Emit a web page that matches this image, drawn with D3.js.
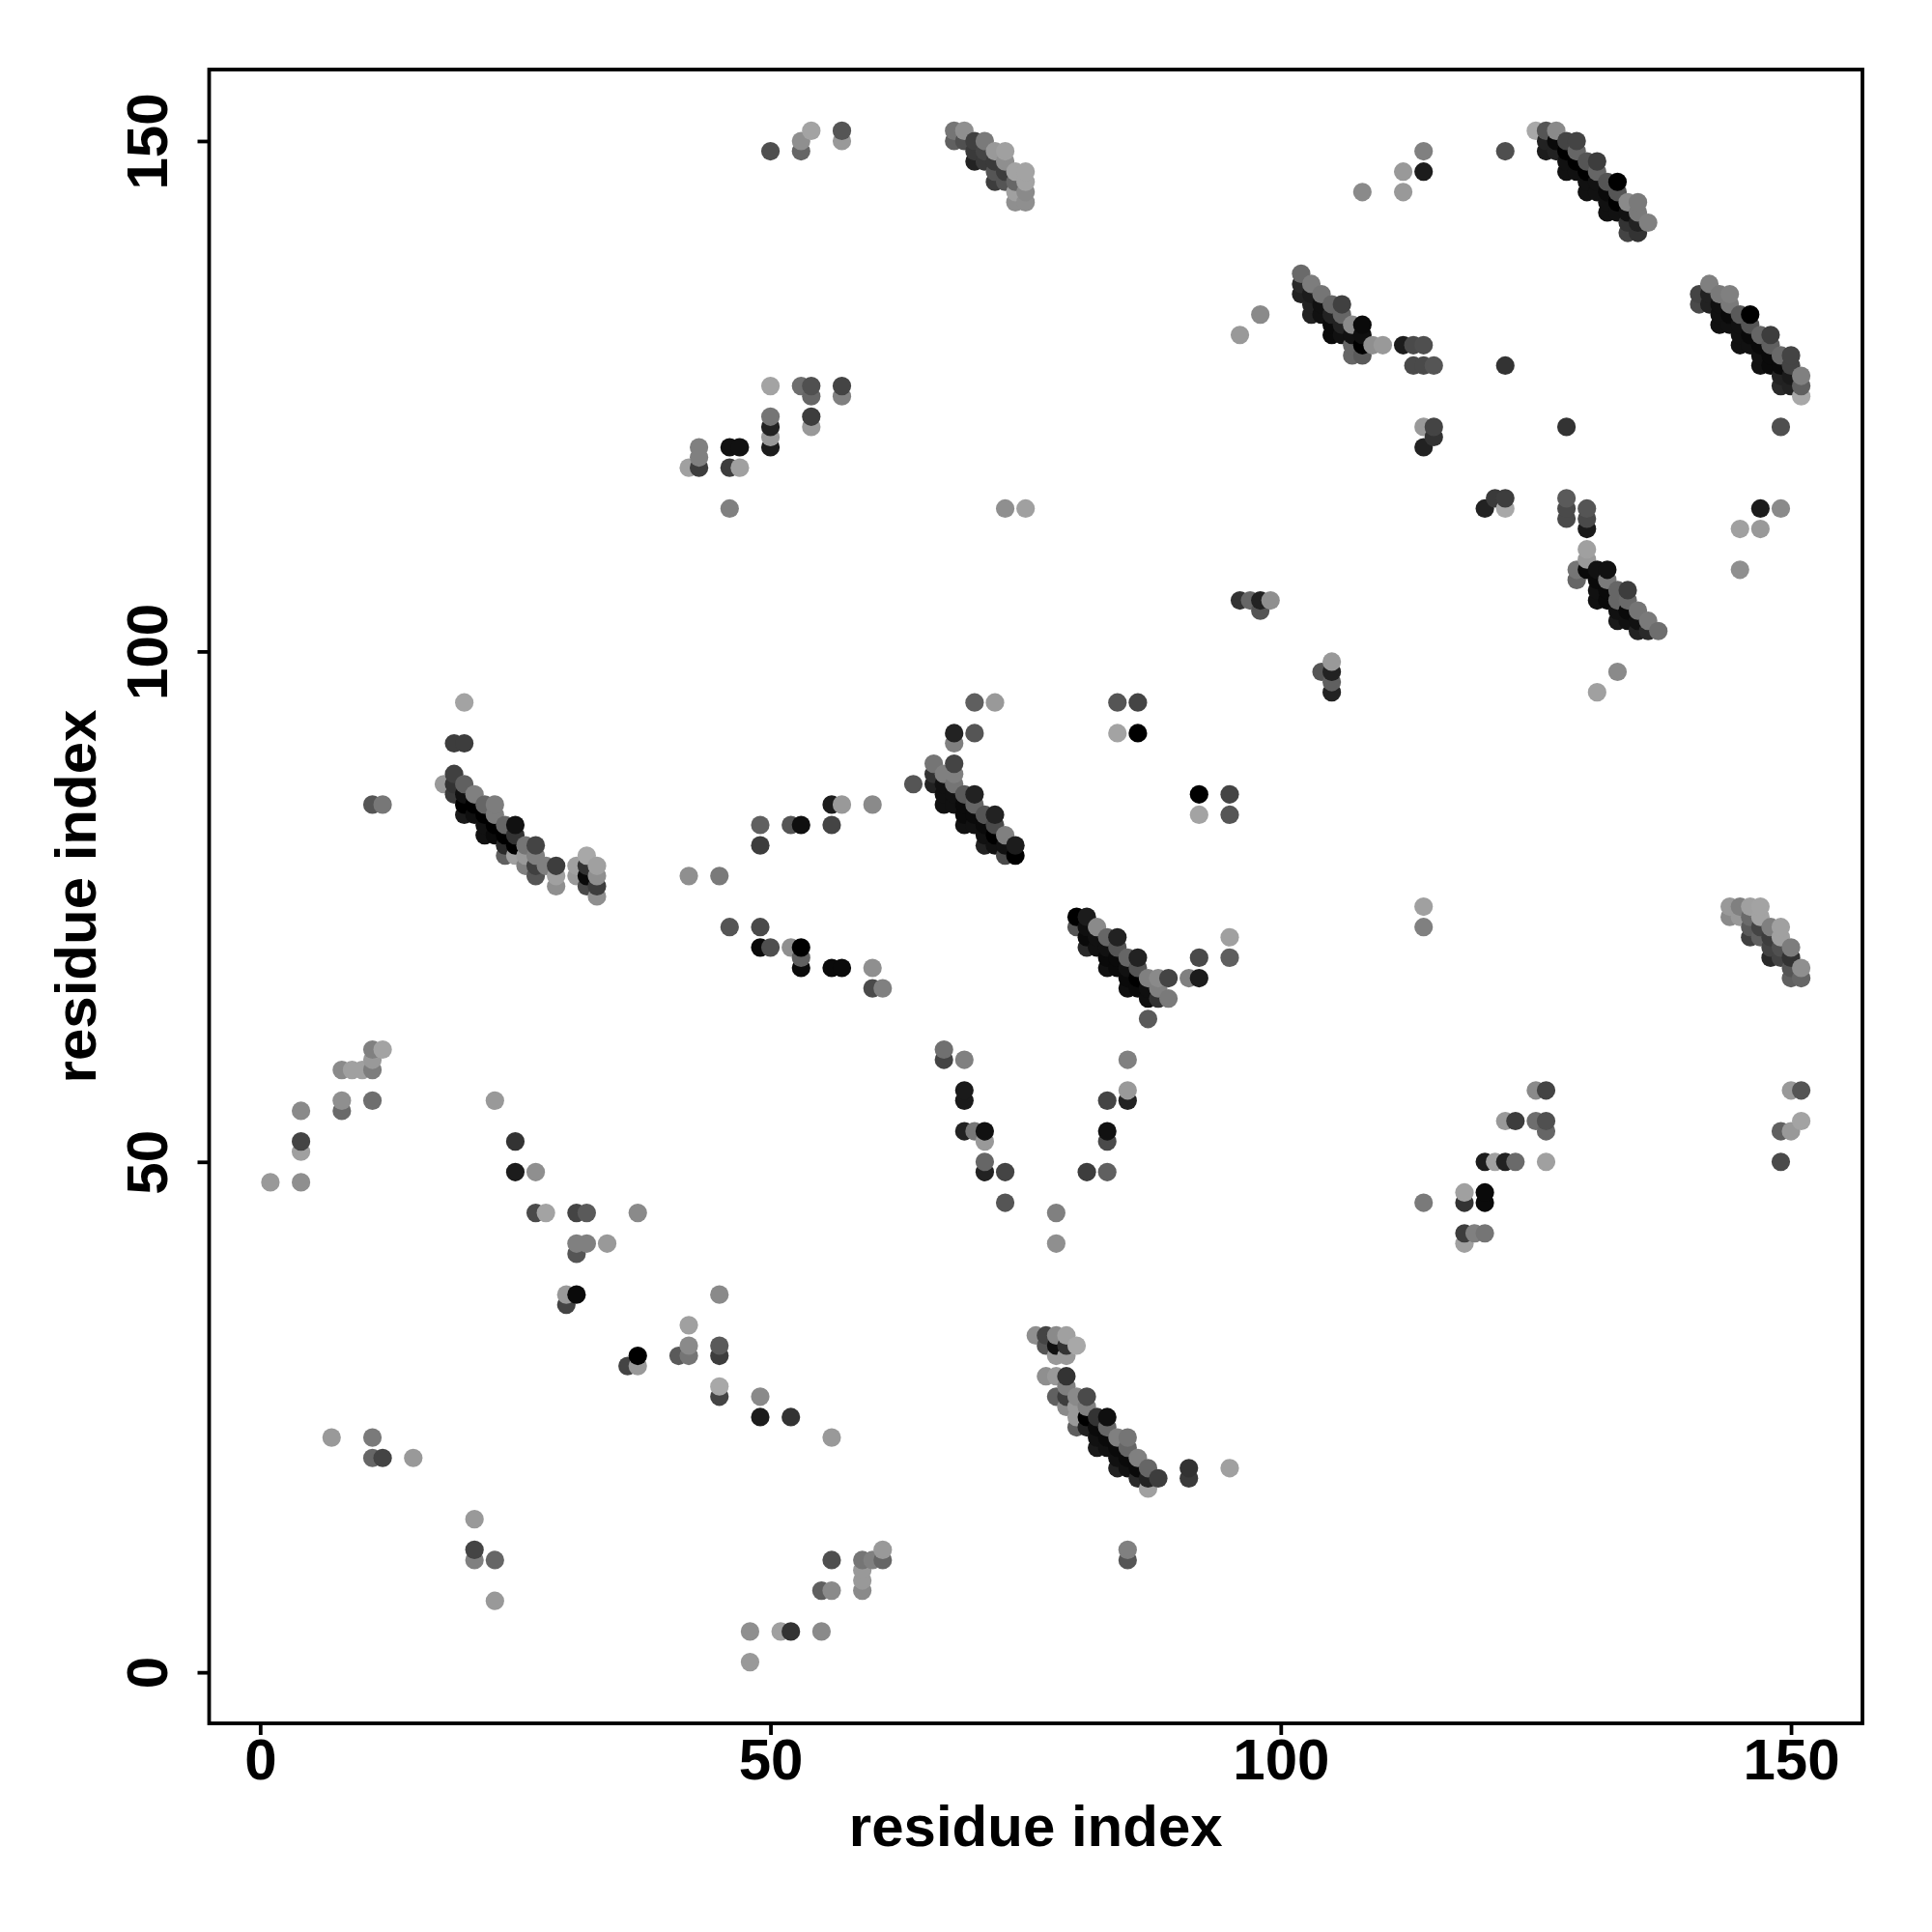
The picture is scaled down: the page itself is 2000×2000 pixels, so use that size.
<!DOCTYPE html>
<html><head><meta charset="utf-8">
<script src="https://cdn.jsdelivr.net/npm/d3@7/dist/d3.min.js"></script>
<style>html,body{margin:0;padding:0;background:#fff}</style></head>
<body><svg id="c" width="2000" height="2000"></svg>
<script>
// each row: residue i, residue j, grey level of the contact
const topLeft=[[50,149,0x4f],[53,149,0x66],[53,150,0x8f],[54,151,0xa3],[57,150,0x99],[57,151,0x55],
[50,126,0xa3],[53,126,0x6e],[54,126,0x50],[54,125,0x66],[50,123,0x75],[50,122,0x22],[50,121,0x99],[50,120,0x1c],[54,123,0x3d],[54,122,0x99],[57,126,0x44],[57,125,0x80],
[43,120,0x80],[43,119,0x80],[43,118,0x3d],[42,118,0xa0],[46,120,0x11],[47,120,0x11],[46,118,0x3d],[47,118,0xa0],[46,114,0x80],[73,114,0x8f],[75,114,0xa0]];
const sheet68=[[68,151,0x75],[68,150,0x60],[69,150,0x50],[69,151,0x8f],[70,150,0x40],[70,149,0x3a],[70,148,0x22],[71,150,0x7a],[71,149,0x44],[71,148,0x3a],
[72,149,0x99],[72,148,0x3a],[72,147,0x55],[72,146,0x3d],[73,149,0xa0],[73,148,0x8f],[73,147,0x3d],[73,146,0x55],[74,147,0xa3],[74,146,0x66],[74,145,0xa0],[74,144,0x8f],[75,147,0xa3],[75,146,0xa3],[75,145,0x8a],[75,144,0x8f]];
const topMid=[[96,131,0x99],[98,133,0x8a],[114,149,0x80],[114,147,0x1c],[112,147,0x99],[112,145,0x99],[108,145,0x8a],[122,149,0x4f],[122,128,0x33],
[112,130,0x1c],[113,130,0x4a],[114,130,0x4f],[113,128,0x4a],[114,128,0x4a],[115,128,0x55],[110,130,0x99],[109,130,0x8f],
[114,122,0x99],[115,122,0x44],[115,121,0x33],[114,120,0x22]];
const sheet102=[[102,137,0x6a],[102,136,0x2a],[102,135,0x22],[103,136,0x7d],[103,135,0x1c],[103,134,0x22],[103,133,0x22],[104,135,0x75],[104,134,0x11],[104,133,0x11],
[105,134,0x66],[105,133,0x22],[105,132,0x0a],[105,131,0x0a],[106,134,0x40],[106,133,0x66],[106,132,0x22],[106,131,0x11],[107,132,0x8a],[107,131,0x11],[107,130,0x66],[107,129,0x66],[108,132,0x0a],[108,131,0x0f],[108,130,0x00],[108,129,0x5a]];
const sheet125=[[125,151,0xa8],[126,151,0x55],[126,150,0x22],[126,149,0x1c],[127,151,0x8a],[127,150,0x0a],[127,149,0x22],[128,150,0x44],[128,149,0x00],[128,148,0x11],[128,147,0x11],
[129,150,0x44],[129,149,0x66],[129,148,0x00],[129,147,0x11],[130,148,0x55],[130,147,0x00],[130,146,0x11],[130,145,0x11],[131,148,0x3d],[131,147,0x66],[131,146,0x11],[131,145,0x11],
[132,146,0x55],[132,145,0x0a],[132,144,0x11],[132,143,0x11],[133,146,0x00],[133,145,0x55],[133,144,0x00],[133,143,0x11],[134,144,0x8a],[134,143,0x11],[134,142,0x33],[134,141,0x44],
[135,144,0x7a],[135,143,0x7a],[135,142,0x22],[135,141,0x33],[136,142,0x80]];
const sheet141=[[141,135,0x44],[141,134,0x4a],[142,136,0x80],[142,135,0x22],[142,134,0x22],[143,135,0x7a],[143,134,0x11],[143,133,0x11],[143,132,0x11],[144,135,0x80],[144,134,0x7a],[144,133,0x0a],[144,132,0x11],
[145,133,0x5a],[145,132,0x11],[145,131,0x11],[145,130,0x11],[146,133,0x00],[146,132,0x55],[146,131,0x0a],[146,130,0x11],[147,131,0x66],[147,130,0x0a],[147,129,0x11],[147,128,0x11],
[148,131,0x3d],[148,130,0x60],[148,129,0x0a],[148,128,0x0a],[149,129,0x6a],[149,128,0x0a],[149,127,0x22],[149,126,0x2a],[150,129,0x44],[150,128,0x44],[150,127,0x1a],[150,126,0x22],[151,127,0x80],[151,126,0x60],[151,125,0xa8]];
const rightMid=[[128,122,0x33],[149,122,0x4f],[122,115,0x3d],[121,115,0x3a],[120,114,0x22],[122,114,0xa8],[128,115,0x5a],[128,114,0x4a],[128,113,0x4a],[130,114,0x55],[130,113,0x4a],[130,112,0x1a],
[147,114,0x1c],[149,114,0x8a],[145,112,0xa0],[147,112,0x99],[145,108,0x8f],
[96,105,0x33],[97,105,0x66],[98,105,0x22],[98,104,0x55],[99,105,0x8f],[105,99,0x99],[105,98,0x22],[104,98,0x55],[105,97,0x60],[105,96,0x22],[133,98,0x8a],[131,96,0xa0]];
const sheet129=[[130,110,0xa0],[130,109,0x99],[130,108,0x0a],[129,108,0x75],[129,107,0x66],[131,108,0x11],[131,107,0x0a],[131,106,0x11],[131,105,0x11],[132,108,0x11],[132,107,0x7a],[132,106,0x0a],[132,105,0x0a],
[133,106,0x66],[133,105,0x66],[133,104,0x11],[133,103,0x1a],[134,106,0x3d],[134,105,0x6a],[134,104,0x0a],[134,103,0x11],[135,104,0x75],[135,103,0x11],[135,102,0x22],[136,103,0x7a],[136,102,0x2a],[137,102,0x6e]];
const sheet18=[[20,95,0xa3],[19,91,0x3d],[20,91,0x3d],[18,87,0x99],[19,88,0x40],[19,87,0x33],[19,86,0x3a],[20,87,0x60],[20,86,0x11],[20,85,0x00],[20,84,0x1a],[21,86,0x80],[21,85,0x00],[21,84,0x0f],
[22,85,0x66],[22,84,0x00],[22,83,0x11],[22,82,0x11],[23,85,0x7d],[23,84,0x7d],[23,83,0x00],[23,82,0x0a],[24,83,0x66],[24,82,0x00],[24,81,0x2a],[24,80,0x60],[25,83,0x11],[25,82,0x33],[25,81,0x00],[25,80,0xa0],
[26,81,0x75],[26,80,0x99],[26,79,0x80],[27,81,0x44],[27,80,0x80],[27,79,0x40],[27,78,0x55],[28,79,0x80],[29,79,0x3d],[29,78,0xa0],[29,77,0x8f],[31,79,0xa0],[31,78,0x99],
[32,80,0xa8],[32,79,0x33],[32,78,0x0a],[32,77,0x4a],[33,79,0xa0],[33,78,0x8f],[33,77,0x3d],[33,76,0x8f],[11,85,0x55],[12,85,0x77]];
const midLeft=[[42,78,0x8f],[45,78,0x7a],[49,83,0x60],[49,81,0x3d],[52,83,0x55],[53,83,0x0f],[56,83,0x44],[56,85,0x1c],[57,85,0x99],[60,85,0x8a],
[46,73,0x55],[49,73,0x4a],[49,71,0x0a],[50,71,0x4f],[52,71,0x8f],[53,71,0x00],[53,70,0x60],[53,69,0x0a],[56,69,0x0a],[57,69,0x0a],[60,69,0x8f],[60,67,0x4a],[61,67,0x80]];
const sheet66=[[70,95,0x5f],[72,95,0x99],[68,92,0x22],[70,92,0x55],[68,91,0x80],[68,89,0x44],[64,87,0x55],[66,89,0x75],[66,88,0x33],[66,87,0x22],[67,88,0x80],[67,87,0x11],[67,86,0x11],[67,85,0x11],
[68,88,0x80],[68,87,0x75],[68,86,0x11],[68,85,0x11],[69,86,0x5a],[69,85,0x0a],[69,84,0x0a],[69,83,0x11],[70,86,0x22],[70,85,0x66],[70,84,0x0a],[70,83,0x11],
[71,84,0x55],[71,83,0x0a],[71,82,0x11],[71,81,0x22],[72,84,0x22],[72,83,0x4a],[72,82,0x00],[72,81,0x11],[73,82,0x80],[73,81,0x11],[73,80,0x4a],[74,81,0x1c],[74,80,0x00]];
const midCentre=[[84,95,0x55],[86,95,0x44],[84,92,0xa3],[86,92,0x00],[92,86,0x00],[95,86,0x44],[92,84,0xa3],[95,84,0x55],[114,75,0xa0],[114,73,0x80]];
const sheet80=[[80,74,0x00],[80,73,0x55],[81,74,0x1c],[81,73,0x0f],[81,72,0x0a],[81,71,0x2a],[82,73,0x8a],[82,72,0x11],[82,71,0x11],[83,72,0x66],[83,71,0x11],[83,70,0x0a],[83,69,0x11],
[84,72,0x22],[84,71,0x55],[84,70,0x0a],[84,69,0x0a],[85,70,0x66],[85,69,0x11],[85,68,0x0a],[85,67,0x0f],[86,70,0x22],[86,69,0x55],[86,68,0x00],[86,67,0x0a],[87,68,0x80],[87,67,0x0f],[87,66,0x0f],
[88,68,0x8a],[88,67,0x80],[88,66,0x33],[89,68,0x44],[89,66,0x7a],[91,68,0x80],[92,68,0x1c],[92,70,0x4a],[95,70,0x5f],[95,72,0xa0],[87,64,0x5a]];
const vShape=[[85,60,0x80],[85,57,0x99],[85,56,0x22],[83,56,0x44],[83,53,0x11],[83,52,0x4a],[81,49,0x3d],[83,49,0x60],[78,45,0x80],[78,42,0x8f],[73,49,0x44],[73,46,0x55],
[67,61,0x70],[67,60,0x44],[69,60,0x80],[69,57,0x1a],[69,56,0x1a],[69,53,0x22],[70,53,0x77],[71,53,0x11],[71,52,0x99],[71,50,0x66],[71,49,0x22]];
const sheet76=[[76,33,0x8f],[77,33,0x44],[77,32,0x55],[78,33,0x8a],[78,32,0x11],[78,31,0x99],[79,33,0xa0],[79,32,0x33],[79,31,0x99],[80,32,0xa8],[77,29,0x8f],[78,29,0x99],[79,29,0x33],[79,28,0x80],[79,27,0x3d],[79,26,0x8a],[78,27,0x60],
[80,27,0x8a],[80,26,0x99],[80,25,0x99],[80,24,0x5f],[81,27,0x4a],[81,26,0x80],[81,25,0x00],[81,24,0x22],[82,25,0x33],[82,24,0x0a],[82,23,0x11],[82,22,0x1a],[83,25,0x0f],[83,24,0x66],[83,23,0x0a],[83,22,0x11],
[84,23,0x80],[84,22,0x0a],[84,21,0x11],[84,20,0x22],[85,23,0x75],[85,22,0x66],[85,21,0x0a],[85,20,0x11],[86,21,0x80],[86,20,0x0a],[86,19,0x2a],[87,20,0x66],[87,19,0x22],[87,18,0xa0],[88,19,0x3d],
[91,20,0x33],[91,19,0x3a],[95,20,0xa0],[85,12,0x80],[85,11,0x55]];
const sheet144=[[144,75,0x99],[144,74,0x8a],[145,75,0x80],[145,74,0x99],[146,75,0xa0],[146,74,0x6a],[146,73,0x5a],[146,72,0x40],[147,75,0xa3],[147,74,0xa3],[147,73,0x44],[147,72,0x60],
[148,73,0x80],[148,72,0x3d],[148,71,0x44],[148,70,0x2a],[149,73,0xa0],[149,72,0xa0],[149,71,0x50],[149,70,0x44],[150,71,0x7d],[150,70,0x33],[150,69,0x55],[150,68,0x60],[151,69,0x8f],[151,68,0x66]];
const lowLeft=[[12,61,0xa3],[11,61,0x80],[11,60,0x99],[11,59,0x7d],[8,59,0x8a],[9,59,0xa0],[10,59,0xa0],[8,56,0x8f],[8,55,0x6a],[11,56,0x6e],[4,55,0x8a],[4,52,0x44],[4,51,0xa0],[4,48,0x8f],[1,48,0x99],
[23,56,0x99],[25,52,0x33],[25,49,0x1c],[27,49,0x8f],[27,45,0x4a],[28,45,0xa3],[31,45,0x44],[32,45,0x5a],[37,45,0x8a],[31,42,0x80],[32,42,0x80],[34,42,0x99],[31,41,0x55],[30,37,0x99],[31,37,0x0a],[30,36,0x44],
[45,37,0x8a],[42,34,0xa0],[42,32,0x8a],[42,31,0x75],[41,31,0x5a],[45,32,0x5a],[45,31,0x3d],[37,31,0x00],[37,30,0x99],[36,30,0x44],[45,28,0xa8],[45,27,0x44],[49,27,0x8a],[49,25,0x1c],[52,25,0x33],
[7,23,0x99],[11,23,0x7a],[11,21,0x66],[12,21,0x44],[15,21,0x99],[56,23,0x99]];
const bottom=[[21,15,0x99],[21,12,0x44],[21,11,0x80],[23,11,0x66],[23,7,0x99],[48,4,0x8f],[48,1,0x99],[51,4,0xa0],[52,4,0x33],[55,4,0x8a],[55,8,0x5f],[56,8,0x8a],[56,11,0x4f],[59,11,0x75],[59,10,0x99],[59,9,0x99],[59,8,0x8a],[60,11,0x80],[61,12,0x99],[61,11,0x66]];
const lowRight=[[114,46,0x7a],[118,47,0xa0],[118,46,0x33],[120,47,0x0a],[120,46,0x0a],[118,43,0x3d],[118,42,0xa0],[119,43,0x80],[120,43,0x75],[120,50,0x1c],[121,50,0xa0],[122,50,0x22],[123,50,0x6a],[126,50,0xa0],
[122,54,0x99],[123,54,0x3d],[125,54,0x6e],[126,54,0x50],[126,53,0x66],[125,57,0x8a],[126,57,0x44],[150,57,0x99],[151,57,0x55],[151,54,0xa3],[150,53,0x99],[149,53,0x60],[149,50,0x4a]];
const xTicks=[0,50,100,150], yTicks=[0,50,100,150];
const axisTitle="residue index";

const contacts=[].concat(topLeft,sheet68,topMid,sheet102,sheet125,sheet141,rightMid,sheet129,sheet18,midLeft,sheet66,midCentre,sheet80,vShape,sheet76,sheet144,lowLeft,bottom,lowRight)
  .sort((a,b)=>a[0]-b[0]||a[1]-b[1]);

const box={l:216.5,r:1928,t:72,b:1784};
const x=d3.scaleLinear().domain([-5,157]).range([box.l,box.r]);
const y=d3.scaleLinear().domain([-5,157]).range([box.b,box.t]);
const grey=d3.scaleLinear().domain([0,255]).range(["#000","#fff"]);
const svg=d3.select("#c");
const FONT='"Liberation Sans",Arial,sans-serif';
const SIZE="60px";
svg.append("g").selectAll("circle").data(contacts).join("circle")
  .attr("cx",d=>x(d[0])).attr("cy",d=>y(d[1])).attr("r",9.6).attr("fill",d=>grey(d[2]));
svg.append("rect").attr("x",box.l).attr("y",box.t).attr("width",box.r-box.l).attr("height",box.b-box.t)
  .attr("fill","none").attr("stroke","#000").attr("stroke-width",3.8);
const gx=svg.append("g").attr("transform",`translate(0,${box.b})`).call(d3.axisBottom(x).tickValues(xTicks).tickSize(12).tickPadding(3).tickSizeOuter(0));
const gy=svg.append("g").attr("transform",`translate(${box.l},0)`).call(d3.axisLeft(y).tickValues(yTicks).tickSize(12).tickSizeOuter(0));
[gx,gy].forEach(g=>{g.select(".domain").remove();
  g.selectAll("line").attr("stroke","#000").attr("stroke-width",3.8);
  g.selectAll("text").attr("fill","#000").style("font-family",FONT).style("font-weight","bold").style("font-size",SIZE);});
gy.selectAll("text").attr("text-anchor","middle").attr("x",null).attr("dy",null)
  .attr("transform","translate(-44,0) rotate(-90)");
svg.append("text").attr("x",(box.l+box.r)/2).attr("y",1911).attr("text-anchor","middle").text(axisTitle)
  .style("font-family",FONT).style("font-weight","bold").style("font-size",SIZE);
svg.append("text").attr("transform",`translate(99,${(box.t+box.b)/2}) rotate(-90)`).attr("text-anchor","middle").text(axisTitle)
  .style("font-family",FONT).style("font-weight","bold").style("font-size",SIZE);
</script></body></html>
